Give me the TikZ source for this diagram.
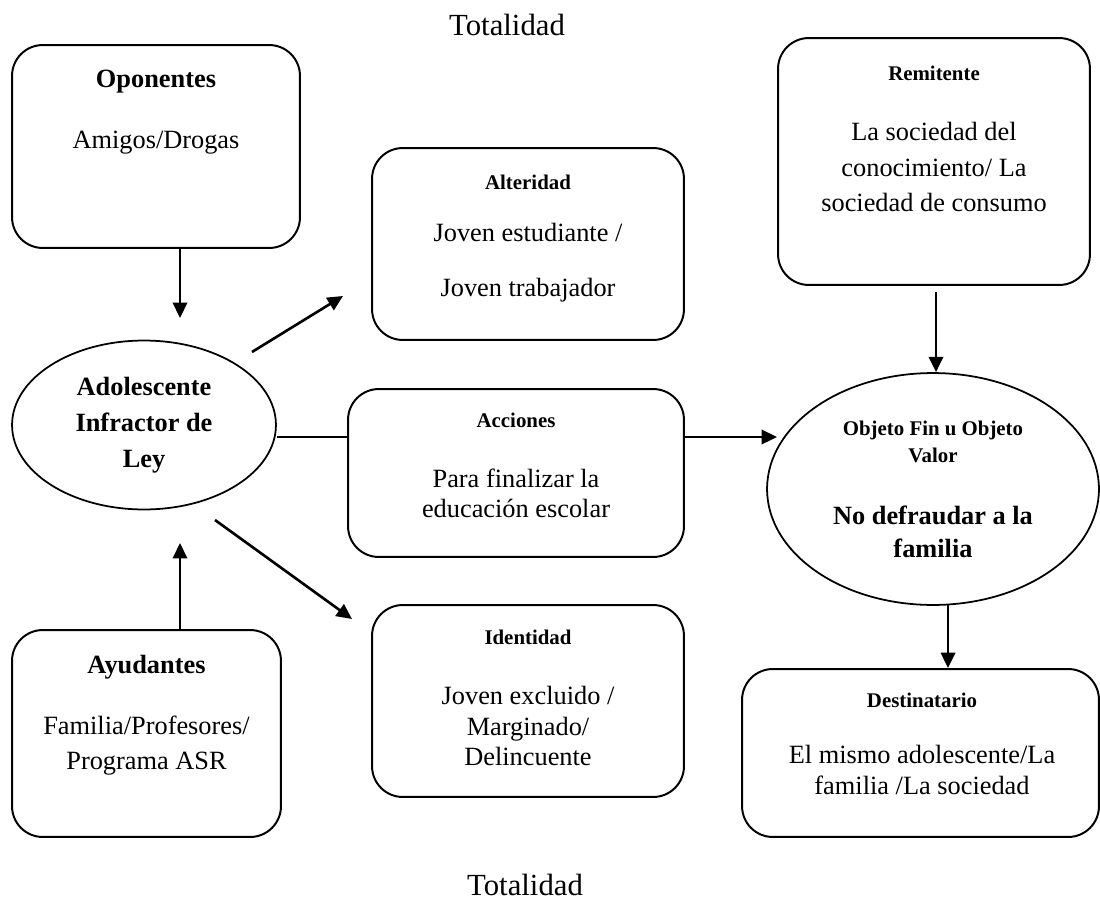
\documentclass[tikz,border=0pt]{standalone}
\usepackage{fontspec}
\setmainfont{Liberation Serif}
\usetikzlibrary{shapes,positioning,arrows.meta}

\begin{document}
\begin{tikzpicture}[x=0.016cm,y=-0.016cm,
  rbox/.style={draw,line width=0.9pt,rounded corners=14pt},
  oval/.style={draw,ellipse,line width=0.8pt,inner sep=0pt},
  txt/.style={align=center,inner sep=0pt,font=\fontsize{12}{14}\selectfont},
  big/.style={align=center,inner sep=0pt,font=\fontsize{12}{14}\selectfont\bfseries},
  small/.style={align=center,inner sep=0pt,font=\fontsize{9.5}{12.3}\selectfont\bfseries},
  arr/.style={line width=1.2pt,-{Triangle[length=7pt,width=6.5pt]}}]
\useasboundingbox (0,0) rectangle (1100,900);

\node[font=\fontsize{14}{16}\selectfont] (totTop) at (507,25) {Totalidad};
\node[font=\fontsize{14}{16}\selectfont] (totBot) at (525,885) {Totalidad};

% boxes
\node[rbox,minimum width=4.608cm,minimum height=3.248cm] (opo) at (156,146.5) {};
\node[big] (opoHead) at (156,82) {Oponentes};
\node[txt] (opoBody) at (156,143) {Amigos/Drogas};

\node[rbox,minimum width=4.992cm,minimum height=3.072cm] (alt) at (528,244) {};
\node[small] (altHead) at (528,182) {Alteridad};
\node[txt] (altBody) at (528,262.5) {Joven estudiante /\\[11pt]Joven trabajador};

\node[rbox,minimum width=4.992cm,minimum height=3.952cm] (rem) at (934,161.5) {};
\node[small] (remHead) at (934,73) {Remitente};
\node[txt,font=\fontsize{12}{16}\selectfont] (remBody) at (934,167) {La sociedad del\\conocimiento/ La\\sociedad de consumo};

\node[oval,minimum width=4.224cm,minimum height=2.704cm,big,font=\fontsize{12}{16.4}\selectfont\bfseries] (ado) at (144,425) {Adolescente\\Infractor de\\Ley};

\node[rbox,minimum width=5.376cm,minimum height=2.688cm] (acc) at (516,473) {};
\node[small] (accHead) at (516,420) {Acciones};
\node[txt,font=\fontsize{12}{13.7}\selectfont] (accBody) at (516,493) {Para finalizar la\\educación escolar};

\node[oval,minimum width=5.312cm,minimum height=3.712cm] (obj) at (933,489) {};
\node[small] (objHead) at (933,441.5) {Objeto Fin u Objeto\\Valor};
\node[big,font=\fontsize{12}{15}\selectfont\bfseries] (objBody) at (933,531.5) {No defraudar a la\\familia};

\node[rbox,minimum width=4.304cm,minimum height=3.312cm] (ayu) at (146.5,733.5) {};
\node[big] (ayuHead) at (146.5,667) {Ayudantes};
\node[txt,font=\fontsize{12}{16}\selectfont] (ayuBody) at (146.5,745.5) {Familia/Profesores/\\Programa ASR};

\node[rbox,minimum width=4.992cm,minimum height=3.072cm] (ide) at (528,701) {};
\node[small] (ideHead) at (528,637) {Identidad};
\node[txt] (ideBody) at (528,726) {Joven excluido /\\Marginado/\\Delincuente};

\node[rbox,minimum width=5.712cm,minimum height=2.688cm] (des) at (920.5,753) {};
\node[small] (desHead) at (922,700) {Destinatario};
\node[txt,font=\fontsize{12}{13.7}\selectfont] (desBody) at (922,770) {El mismo adolescente/La\\familia /La sociedad};

% connectors
\coordinate (opoTip) at (180,318);
\draw[arr] (opo.south -| opoTip) -- (opoTip);
\coordinate (ayuTip) at (180,543);
\draw[arr] (ayu.north -| ayuTip) -- (ayuTip);
\coordinate (altFrom) at (252,352);
\coordinate (altTip) at (343,296);
\draw[arr] (altFrom) -- (altTip);
\coordinate (ideFrom) at (215,520);
\coordinate (ideTip) at (352,619);
\draw[arr] (ideFrom) -- (ideTip);
\coordinate (accRow) at (0,437);
\draw[line width=0.9pt] (ado.east |- accRow) -- (acc.west |- accRow);
\coordinate (objTip) at (777,437);
\draw[arr] (acc.east |- objTip) -- (objTip);
\coordinate (remFrom) at (936,292);
\draw[arr] (remFrom) -- (remFrom |- obj.north);
\coordinate (desFrom) at (948,605);
\draw[arr] (desFrom) -- (desFrom |- des.north);
\end{tikzpicture}
\end{document}
